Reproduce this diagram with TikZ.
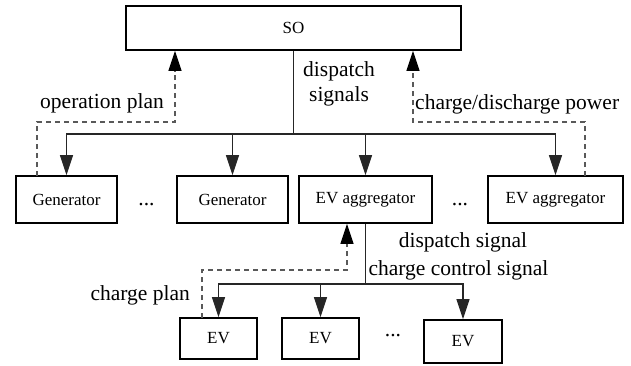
\documentclass[tikz,border=0pt]{standalone}
\usepackage{fontspec}
\setmainfont{Liberation Serif}
\usetikzlibrary{arrows.meta}
\tikzset{
  box/.style={draw=black, line width=1.6pt, inner sep=0pt, font=\fontsize{17}{20}\selectfont},
  lbl/.style={inner sep=0pt, font=\fontsize{21.5}{25}\selectfont},
  dotlbl/.style={inner sep=0pt, anchor=base, font=\fontsize{21.5}{25}\selectfont},
  conn/.style={draw=black!85, line width=1.1pt},
  tip/.tip={Triangle[length=20pt,width=13pt]},
  arr/.style={conn, -tip},
  darr/.style={draw=black!65, line width=1.1pt, dash pattern=on 5pt off 4pt, -{Triangle[length=20pt,width=13pt,fill=black,color=black]}}
}
\begin{document}
\begin{tikzpicture}[x=1pt,y=-1pt]
\useasboundingbox (0,0) rectangle (631,365);
% boxes
\node[box, minimum width=335pt, minimum height=44pt] (SO) at (293.5,28) {SO};
\node[box, minimum width=101pt, minimum height=47pt] (G1) at (66.5,199.5) {Generator};
\node[box, minimum width=111pt, minimum height=47pt] (G2) at (232.5,199.5) {Generator};
\node[box, minimum width=133pt, minimum height=47pt] (A1) at (365.5,199.5) {EV aggregator};
\node[box, minimum width=135pt, minimum height=47pt] (A2) at (555.5,199.5) {EV aggregator};
\node[box, minimum width=77pt, minimum height=41pt] (E1) at (218.5,338.5) {EV};
\node[box, minimum width=77pt, minimum height=41pt] (E2) at (320.5,338.5) {EV};
\node[box, minimum width=78pt, minimum height=43pt] (E3) at (463,341.5) {EV};
% dots
\node[dotlbl] (d1) at (146.5,205) {...};
\node[dotlbl] (d2) at (460,205) {...};
\node[dotlbl] (d3) at (393,336) {...};
% buses
\coordinate (bus) at (293.5,134);
\coordinate (bus2) at (365.5,284);
\draw[conn] (SO) -- (bus);
\draw[arr] (bus) -| (G1);
\draw[arr] (bus) -| (G2);
\draw[arr] (bus) -| (A1);
\draw[arr] (bus) -| (A2);
\draw[conn] (A1) -- (bus2);
\draw[arr] (bus2) -| (E1);
\draw[arr] (bus2) -| (E2);
\draw[arr] (bus2) -| (E3);
% dashed feedback
\coordinate (opA) at (37,176);
\coordinate (opB) at (175,122);
\draw[darr] (opA) |- (opB) -- (opB |- SO.south);
\coordinate (cdA) at (585,176);
\coordinate (cdB) at (413,122);
\draw[darr] (cdA) |- (cdB) -- (cdB |- SO.south);
\coordinate (cpA) at (202,318);
\coordinate (cpB) at (347,270);
\draw[darr] (cpA) |- (cpB) -- (cpB |- A1.south);
% labels
\node[lbl] (l1) at (102,103) {operation plan};
\node[lbl, align=center] (l2) at (339,84) {dispatch\\signals};
\node[lbl, anchor=west] (l3) at (415,104) {charge/discharge power};
\node[lbl] (l4) at (463,242) {dispatch signal};
\node[lbl] (l5) at (458.5,270) {charge control signal};
\node[lbl, anchor=east] (l6) at (190,295) {charge plan};
\end{tikzpicture}
\end{document}
